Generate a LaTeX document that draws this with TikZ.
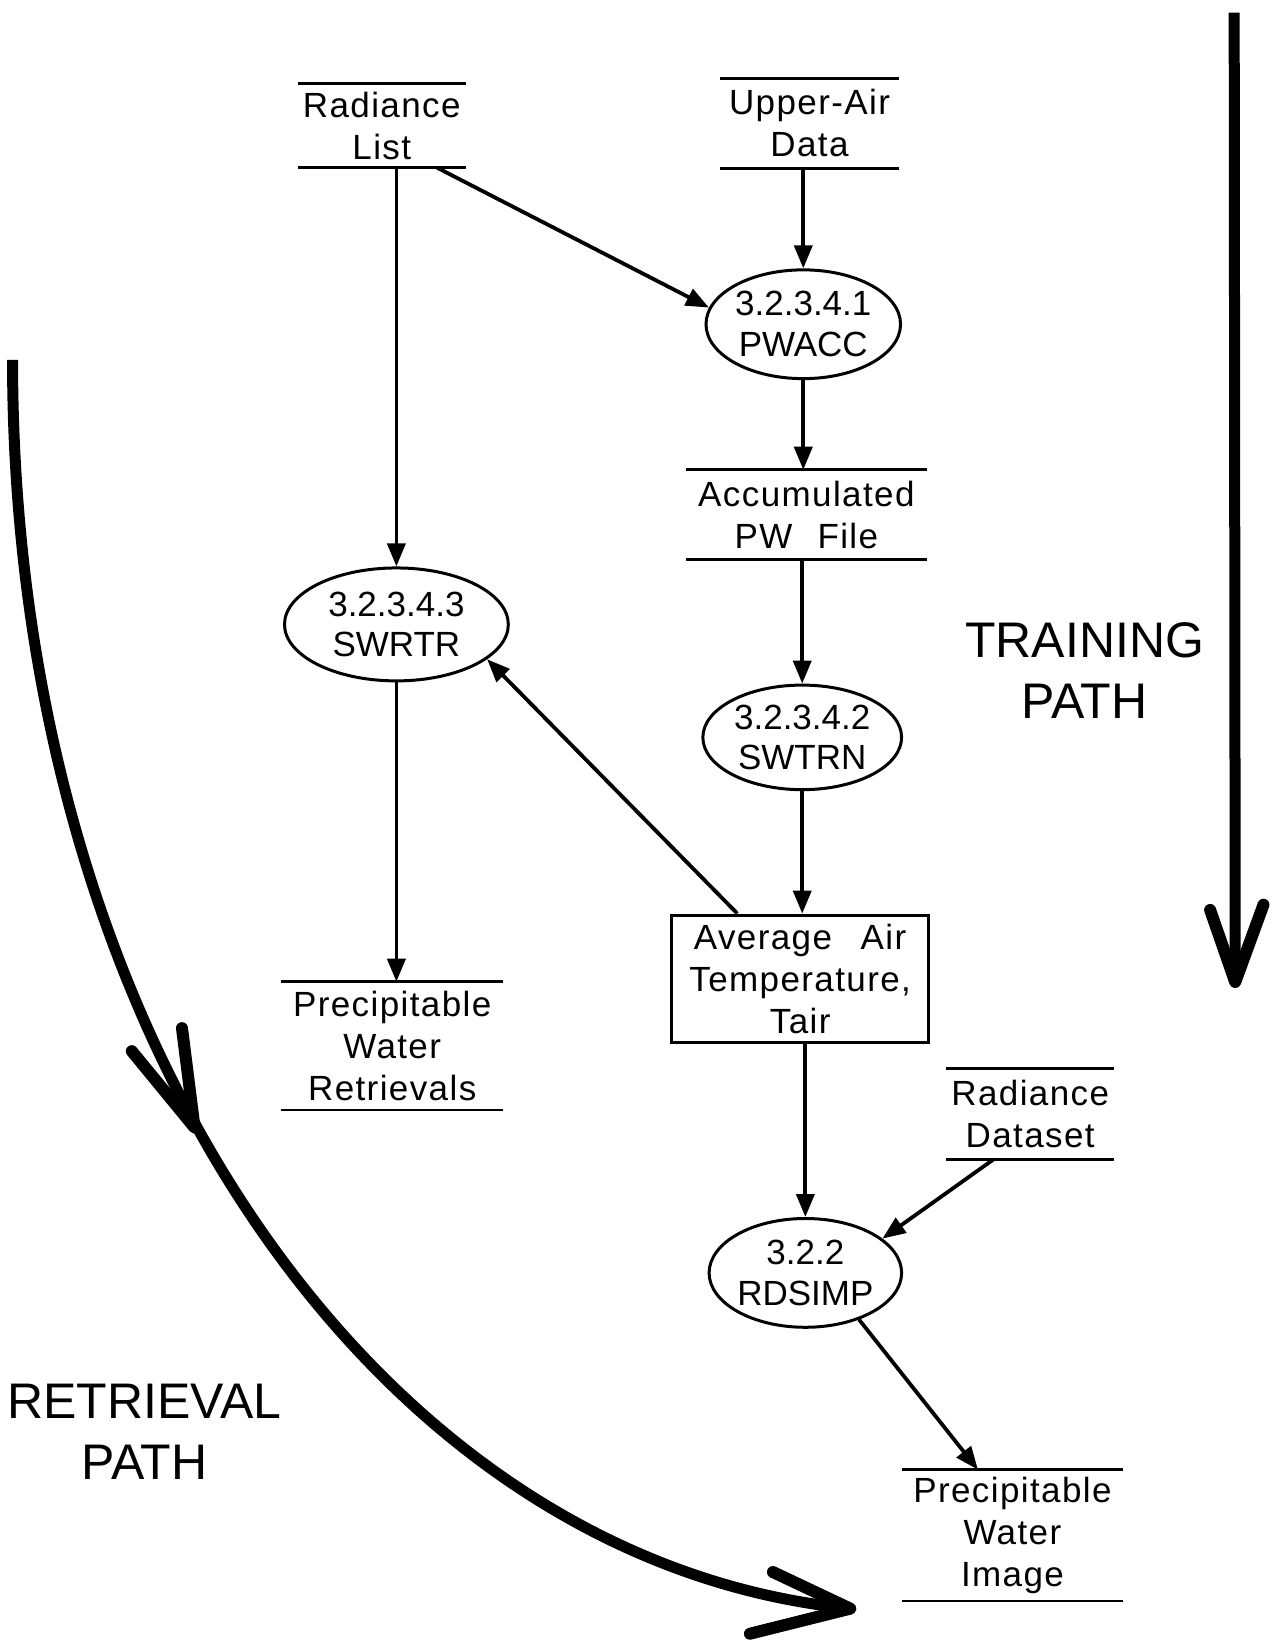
\documentclass[tikz,border=0pt]{standalone}
\usepackage{fontspec}
\setmainfont{Liberation Sans}
\newfontfamily\storefont[LetterSpace=4]{Liberation Sans}
\usetikzlibrary{arrows.meta,shapes.geometric,calc}
\newcommand\pxunit{0.52293pt}

\tikzset{
  flow/.style={line width=1.9pt,-{Triangle[length=11.5pt,width=9pt]}},
  store/.style={inner sep=0pt,align=center,font=\storefont\fontsize{17.5}{21}\selectfont},
  storeline/.style={line width=1.3pt},
  process/.style={ellipse,draw,line width=1.5pt,inner sep=0pt,align=center,
    font=\fontsize{17.5}{20.4}\selectfont},
  entity/.style={rectangle,draw,line width=1.6pt,inner sep=0pt,align=center,
    font=\storefont\fontsize{17.5}{21}\selectfont},
  pathlabel/.style={align=center,font=\fontsize{25}{30.5}\selectfont},
  bigline/.style={line width=5.5pt},
  bighead/.style={line width=6pt,line join=round,line cap=round}
}

\begin{document}
\begin{tikzpicture}[x=\pxunit,y=-\pxunit]
  \useasboundingbox (0,0) rectangle (1221,1568);

  % Data stores
  \node[store,minimum width=160*\pxunit,minimum height=80*\pxunit] (rlist) at (365,120) {Radiance\\List};
  \node[store,minimum width=170*\pxunit,minimum height=85*\pxunit] (uad) at (774,118) {Upper-Air\\Data};
  \node[store,minimum width=230*\pxunit,minimum height=85*\pxunit] (apw) at (771,492) {Accumulated\\PW\hspace{0.4em} File};
  \node[store,minimum width=212*\pxunit,minimum height=122*\pxunit] (pwr) at (375,1000) {Precipitable\\Water\\Retrievals};
  \node[store,minimum width=160*\pxunit,minimum height=86*\pxunit] (rds) at (985,1065) {Radiance\\Dataset};
  \node[store,minimum width=210*\pxunit,minimum height=125*\pxunit] (pwi) at (968,1468) {Precipitable\\Water\\Image};

  \foreach \s in {rlist,uad,apw,pwr,rds,pwi}
  {
    \draw[storeline] (\s.north west) -- (\s.north east);
    \draw[storeline] (\s.south west) -- (\s.south east);
  }

  % Processes
  \node[process,minimum width=186*\pxunit,minimum height=104*\pxunit] (pwacc) at (768,310) {3.2.3.4.1\\PWACC};
  \node[process,minimum width=190*\pxunit,minimum height=100*\pxunit] (swtrn) at (767,705) {3.2.3.4.2\\SWTRN};
  \node[process,minimum width=214*\pxunit,minimum height=108*\pxunit] (swrtr) at (379,597) {3.2.3.4.3\\SWRTR};
  \node[process,minimum width=174*\pxunit,minimum height=104*\pxunit] (rdsimp) at (770,1217) {3.2.2\\RDSIMP};
  \node[entity,minimum width=246*\pxunit,minimum height=122*\pxunit] (tair) at (765,936) {Average\hspace{0.5em} Air\\Temperature,\\Tair};

  % Flows
  \draw[flow] (rlist.south -| swrtr.north) -- (swrtr.north);
  \draw[flow] ($(rlist.south)+(53,0)$) -- (pwacc.170);
  \draw[flow] (uad.south -| pwacc.north) -- (pwacc.north);
  \draw[flow] (pwacc.south) -- (apw.north -| pwacc.south);
  \draw[flow] (apw.south -| swtrn.north) -- (swtrn.north);
  \draw[flow] (swtrn.south) -- (tair.north -| swtrn.south);
  \draw[flow] ($(tair.north)+(-60,0)$) -- (swrtr.-21);
  \draw[flow] (swrtr.south) -- (pwr.north -| swrtr.south);
  \draw[flow] (tair.south -| rdsimp.north) -- (rdsimp.north);
  \draw[flow] ($(rds.south)+(-35,0)$) -- (rdsimp.24);
  \draw[flow] (rdsimp.-41) -- ($(pwi.north)+(-33,0)$);

  % Training path
  \coordinate (ttop) at (1180,12);
  \coordinate (ttip) at (1181,939);
  \draw[bigline] (ttop) -- (ttip);
  \draw[bighead] (1157,870) -- (ttip) -- (1208,865);
  \node[pathlabel] (trainlabel) at (1037,641) {TRAINING\\PATH};

  % Retrieval path
  \coordinate (rtop) at (12,344);
  \coordinate (rtip) at (813,1538);
  \coordinate (rmid) at (186,1078);
  \draw[bigline] (rtop) .. controls (12,994) and (363,1493) .. (rtip);
  \draw[bighead] (126,1005) -- (rmid) -- (174,983);
  \draw[bighead] (739,1503) -- (rtip) -- (717,1562);
  \node[pathlabel] (retrlabel) at (138,1369) {RETRIEVAL\\PATH};
\end{tikzpicture}
\end{document}
